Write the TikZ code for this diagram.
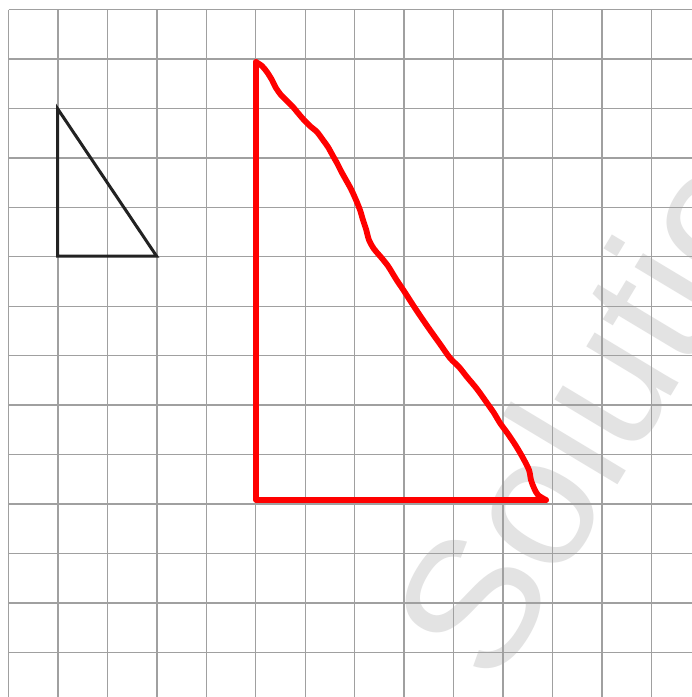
\documentclass[tikz,border=0pt]{standalone}
\usepackage{fontspec}
\setmainfont{Liberation Sans}
\begin{document}
\begin{tikzpicture}[x=1pt,y=-1pt,
  gridline/.style={draw=gridgray,line width=1.4pt},
  smalltri/.style={draw=triblack,line width=3pt},
  redline/.style={draw=red,line width=5.8pt,line cap=round,line join=round},
  watermark/.style={text=wmgray,inner sep=0pt,anchor=base west,rotate=59,font=\fontsize{185}{185}\selectfont}]
\definecolor{gridgray}{HTML}{A0A0A0}
\definecolor{triblack}{HTML}{222222}
\definecolor{wmgray}{HTML}{E3E3E3}
\useasboundingbox (0,0) rectangle (692,697);
\fill[white] (0,0) rectangle (692,697);
% watermark
\node[watermark] (wm) at (495,690) {Solutions};
% grid
\foreach \k in {0,...,13}{
  \draw[gridline] ({8.5+49.45*\k},9.5) -- ({8.5+49.45*\k},697);
  \draw[gridline] (8.5,{9.5+49.45*\k}) -- (692,{9.5+49.45*\k});
}
% small black triangle
\coordinate (a) at (57.5,108.5);
\coordinate (b) at (57.5,256);
\coordinate (c) at (156.5,256);
\draw[smalltri] (a) -- (b) -- (c) -- cycle;
% red figure
\coordinate (p) at (256,62);
\coordinate (q) at (256,500);
\coordinate (r) at (546,500);
\draw[redline] (p) -- (q) -- (r);
\draw[redline] plot[smooth,tension=0.5] coordinates {(256,62) (262,66) (267,72) (272,80) (276,88) (281,95) (287,101) (293,107) (298,113) (304,120) (310,126) (317,132) (323,140) (328,147) (333,156) (337,163) (341,171) (346,180) (351,189) (356,200) (360,210) (363,220) (366,229) (369,240) (374,249) (380,256) (388,266) (396,279) (404,291) (413,305) (421,317) (430,330) (440,344) (450,358) (459,367) (467,377) (477,389) (487,403) (494,413) (500,423) (508,434) (516,446) (523,458) (529,470) (531,480) (534,488) (538,495) (546,500)};
\end{tikzpicture}
\end{document}
